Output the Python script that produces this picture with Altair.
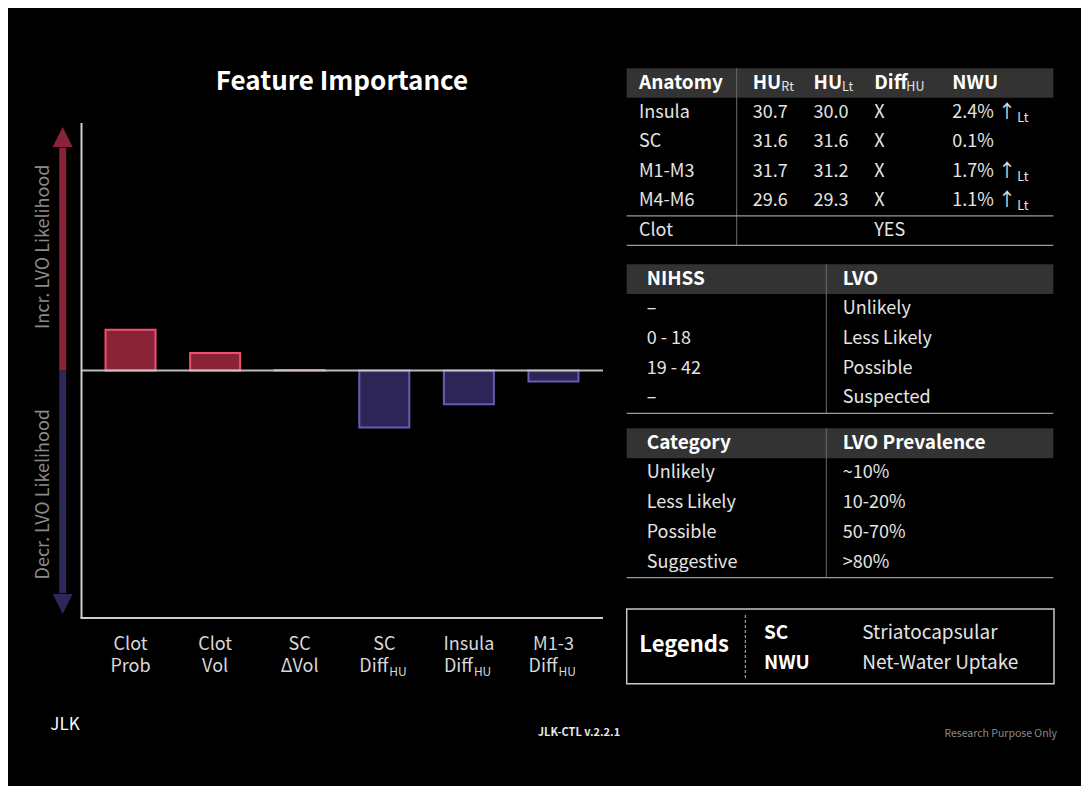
import altair as alt
import pandas as pd

FONT = "Noto Sans CJK KR"
OFF = 8  # page margin: chart pixel = picture pixel - 8


def px(v):
    return v - OFF


# ---------------- data ----------------
features = ["Clot Prob", "Clot Vol", "SC ΔVol", "SC DiffHU", "Insula DiffHU", "M1-3 DiffHU"]
feat_line1 = ["Clot", "Clot", "SC", "SC", "Insula", "M1-3"]
feat_line2 = ["Prob", "Vol", "ΔVol", "Diff", "Diff", "Diff"]
feat_sub = ["", "", "", "HU", "HU", "HU"]
importance = [0.165, 0.071, 0.002, -0.230, -0.136, -0.044]

anat_header = ["Anatomy", "HU", "HU", "Diff", "NWU"]
anat_header_sub = ["", "Rt", "Lt", "HU", ""]
anatomy = ["Insula", "SC", "M1-M3", "M4-M6"]
hu_rt = [30.7, 31.6, 31.7, 29.6]
hu_lt = [30.0, 31.6, 31.2, 29.3]
diff_hu = ["X", "X", "X", "X"]
nwu = [2.4, 0.1, 1.7, 1.1]
nwu_side = ["Lt", "", "Lt", "Lt"]
clot_label = "Clot"
clot_value = "YES"

nihss_header = ["NIHSS", "LVO"]
nihss = ["–", "0 - 18", "19 - 42", "–"]
nihss_lvo = ["Unlikely", "Less Likely", "Possible", "Suspected"]

prev_header = ["Category", "LVO Prevalence"]
categories = ["Unlikely", "Less Likely", "Possible", "Suggestive"]
prevalence = ["~10%", "10-20%", "50-70%", ">80%"]

legend_title = "Legends"
legend_keys = ["SC", "NWU"]
legend_vals = ["Striatocapsular", "Net-Water Uptake"]

title_text = "Feature Importance"
up_text = "Incr. LVO Likelihood"
down_text = "Decr. LVO Likelihood"
version_text = "JLK-CTL v.2.2.1"
note_text = "Research Purpose Only"
logo_text = "JLK"

# ---------------- styles ----------------
POS_FILL, POS_STROKE = "#8a2338", "#f0506f"
NEG_FILL, NEG_STROKE = "#2d2556", "#6a5ab4"
ARROW_UP, ARROW_DOWN = "#8b2238", "#2e2759"
AXIS = "#cfcfcf"
LABEL = "#d8d8d8"
BODY = "#e4e4e4"
HEAD_BG = "#333333"
HLINE = "#9a9a9a"
VLINE = "#6c6c6c"

one = pd.DataFrame({"k": [0]})

# ---------------- bar chart ----------------
bar_df = pd.DataFrame({"feature": features, "value": importance,
                       "l1": feat_line1, "l2": feat_line2, "sub": feat_sub})
XB = alt.Scale(domain=features, range=[px(81), px(603)], paddingInner=0.409, paddingOuter=0.29)
YB = alt.Scale(domain=[-1, 1], range=[px(618), px(123)], nice=False, zero=False)

bars = alt.Chart(bar_df).mark_bar(strokeWidth=2).encode(
    x=alt.X("feature:N", scale=XB, axis=None),
    y=alt.Y("value:Q", scale=YB, axis=None),
    y2=alt.datum(0),
    fill=alt.condition(alt.datum.value > 0, alt.value(POS_FILL), alt.value(NEG_FILL)),
    stroke=alt.condition(alt.datum.value > 0, alt.value(POS_STROKE), alt.value(NEG_STROKE)),
)


def yd(v):
    return alt.YDatum(v, type="quantitative", scale=YB, axis=None)


y_axis_line = alt.Chart(one).mark_rule(color=AXIS, strokeWidth=2).encode(
    x=alt.value(px(81.5)), y=yd(-1), y2=alt.datum(1))
x_axis_line = alt.Chart(one).mark_rule(color=AXIS, strokeWidth=2).encode(
    x=alt.value(px(80.5)), x2=alt.value(px(603)), y=yd(-1))
zero_line = alt.Chart(one).mark_rule(color=AXIS, strokeWidth=2, opacity=0.9).encode(
    x=alt.value(px(81.5)), x2=alt.value(px(603)), y=yd(0))

AX = px(62.7)
up_shaft = alt.Chart(one).mark_rule(color=ARROW_UP, strokeWidth=7).encode(
    x=alt.value(AX), y=yd(0), y2=alt.datum(0.9))
up_head = alt.Chart(one).mark_point(shape="M-1,1L1,1L0,-1Z", size=400, filled=True,
                                    color=ARROW_UP, opacity=1, strokeWidth=0).encode(
    x=alt.value(AX), y=yd(0.943))
down_shaft = alt.Chart(one).mark_rule(color=ARROW_DOWN, strokeWidth=7).encode(
    x=alt.value(AX), y=yd(0), y2=alt.datum(-0.9))
down_head = alt.Chart(one).mark_point(shape="M-1,-1L1,-1L0,1Z", size=400, filled=True,
                                      color=ARROW_DOWN, opacity=1, strokeWidth=0).encode(
    x=alt.value(AX), y=yd(-0.943))
up_label = alt.Chart(one).mark_text(angle=270, fontSize=18, color="#8a8a8a",
                                    align="center", baseline="middle").encode(
    x=alt.value(px(44)), y=yd(0.5), text=alt.value(up_text))
down_label = alt.Chart(one).mark_text(angle=270, fontSize=18, color="#8a8a8a",
                                      align="center", baseline="middle").encode(
    x=alt.value(px(44)), y=yd(-0.5), text=alt.value(down_text))

xf = alt.X("feature:N", scale=XB, axis=None)
lab1 = alt.Chart(bar_df).mark_text(fontSize=18, color=LABEL, align="center",
                                   baseline="alphabetic").encode(
    x=xf, y=alt.value(px(650)), text="l1:N")
lab2 = alt.Chart(bar_df).transform_filter(alt.datum.sub == "").mark_text(
    fontSize=18, color=LABEL, align="center", baseline="alphabetic").encode(
    x=xf, y=alt.value(px(672)), text="l2:N")
lab2m = alt.Chart(bar_df).transform_filter(alt.datum.sub != "").mark_text(
    fontSize=18, color=LABEL, align="right", baseline="alphabetic", dx=4).encode(
    x=xf, y=alt.value(px(672)), text="l2:N")
lab2s = alt.Chart(bar_df).transform_filter(alt.datum.sub != "").mark_text(
    fontSize=12, color=LABEL, align="left", baseline="alphabetic", dx=5).encode(
    x=xf, y=alt.value(px(675.5)), text="sub:N")

bar_group = alt.layer(bars, zero_line, y_axis_line, x_axis_line,
                      up_shaft, up_head, down_shaft, down_head, up_label, down_label,
                      lab1, lab2, lab2m, lab2s)


# ---------------- tables ----------------
def make_table(x_edges_img, y_top, y_bot, n_rows, head_df, body_df, div_idx, right_idx,
               hlines, subs):
    xs = alt.Scale(domain=list(range(len(x_edges_img))), range=[px(v) for v in x_edges_img],
                   nice=False, zero=False)
    ys = alt.Scale(domain=[0, n_rows], range=[px(y_top), px(y_bot)], nice=False, zero=False)

    def xd(v):
        return alt.XDatum(v, type="quantitative", scale=xs, axis=None)

    def ydt(v):
        return alt.YDatum(v, type="quantitative", scale=ys, axis=None)

    layers = [
        alt.Chart(one).mark_rect(color=HEAD_BG).encode(
            x=xd(0), x2=alt.datum(right_idx), y=ydt(0), y2=alt.datum(1)),
        alt.Chart(one).mark_rule(color=VLINE, strokeWidth=1).encode(
            x=xd(div_idx), y=ydt(0), y2=alt.datum(n_rows)),
    ]
    for h in hlines:
        layers.append(alt.Chart(one).mark_rule(color=HLINE, strokeWidth=1.3).encode(
            x=xd(0), x2=alt.datum(right_idx), y=ydt(h)))
    xe = alt.X("c:Q", scale=xs, axis=None)
    ye = alt.Y("r:Q", scale=ys, axis=None)
    layers.append(alt.Chart(head_df).mark_text(fontSize=19, fontWeight="bold", color="white",
                                               align="left", baseline="middle").encode(
        x=xe, y=ye, text="t:N"))
    layers.append(alt.Chart(body_df).mark_text(fontSize=18, color=BODY,
                                               align="left", baseline="middle").encode(
        x=xe, y=ye, text="t:N"))
    for sdf, dx, dy in subs:
        layers.append(alt.Chart(sdf).mark_text(fontSize=12.5, color=BODY, align="left",
                                               baseline="middle", dx=dx, dy=dy).encode(
            x=xe, y=ye, text="t:N"))
    return alt.layer(*layers)


# Table 1: anatomy
t1_cols = [1, 3, 4, 5, 6]
t1_head = pd.DataFrame({"c": t1_cols, "r": [0.5] * 5, "t": anat_header})
t1_rows = []
for i in range(len(anatomy)):
    r = i + 1.5
    nw = f"{nwu[i]:.1f}%" + (" ↑" if nwu_side[i] else "")
    for c, t in zip(t1_cols, [anatomy[i], f"{hu_rt[i]:.1f}", f"{hu_lt[i]:.1f}", diff_hu[i], nw]):
        t1_rows.append({"c": c, "r": r, "t": t})
t1_rows.append({"c": 1, "r": 5.5, "t": clot_label})
t1_rows.append({"c": 5, "r": 5.5, "t": clot_value})
t1_body = pd.DataFrame(t1_rows)
sub_hu = pd.DataFrame({"c": [3, 4], "r": [0.5, 0.5], "t": anat_header_sub[1:3]})
sub_diff = pd.DataFrame({"c": [5], "r": [0.5], "t": [anat_header_sub[3]]})
sub_nwu = pd.DataFrame([{"c": 6, "r": i + 1.5, "t": s} for i, s in enumerate(nwu_side) if s])
table1 = make_table([626.7, 639, 736.7, 752.7, 813.5, 874.3, 952.3, 1053.3],
                    68.3, 245.3, 6, t1_head, t1_body, 2, 7, [5, 6],
                    [(sub_hu, 28.5, 4), (sub_diff, 32, 4), (sub_nwu, 65, 5)])

# Table 2: NIHSS
t2_head = pd.DataFrame({"c": [1, 3], "r": [0.5, 0.5], "t": nihss_header})
t2_body = pd.DataFrame(
    [{"c": 1, "r": i + 1.5, "t": v} for i, v in enumerate(nihss)] +
    [{"c": 3, "r": i + 1.5, "t": v} for i, v in enumerate(nihss_lvo)])
table2 = make_table([626.7, 646.7, 826.3, 842.7, 1053.3], 264.3, 413.3, 5,
                    t2_head, t2_body, 2, 4, [5], [])

# Table 3: prevalence
t3_head = pd.DataFrame({"c": [1, 3], "r": [0.5, 0.5], "t": prev_header})
t3_body = pd.DataFrame(
    [{"c": 1, "r": i + 1.5, "t": v} for i, v in enumerate(categories)] +
    [{"c": 3, "r": i + 1.5, "t": v} for i, v in enumerate(prevalence)])
table3 = make_table([626.7, 646.7, 826.3, 842.7, 1053.3], 428.3, 577.7, 5,
                    t3_head, t3_body, 2, 4, [5], [])

# ---------------- legend box ----------------
LX = alt.Scale(domain=[0, 1, 2, 3, 4, 5],
               range=[px(v) for v in [626.7, 639.3, 745.3, 764, 862.3, 1054]], nice=False, zero=False)
LY = alt.Scale(domain=[0, 1, 2, 3, 4, 5],
               range=[px(v) for v in [609, 615, 632.6, 662.6, 679.7, 683.7]], nice=False, zero=False)


def lxd(v):
    return alt.XDatum(v, type="quantitative", scale=LX, axis=None)


def lyd(v):
    return alt.YDatum(v, type="quantitative", scale=LY, axis=None)


leg_df = pd.DataFrame({"r": [2 + i for i in range(len(legend_keys))],
                       "key": legend_keys, "val": legend_vals})
leg_box = alt.Chart(one).mark_rect(fillOpacity=0, stroke="#c8c8c8", strokeWidth=1.5).encode(
    x=lxd(0), x2=alt.datum(5), y=lyd(0), y2=alt.datum(5))
leg_dash = alt.Chart(one).mark_rule(color="#bdbdbd", strokeWidth=1, strokeDash=[3, 2]).encode(
    x=lxd(2), y=lyd(1), y2=alt.datum(4))
leg_title = alt.Chart(one).mark_text(fontSize=22, fontWeight="bold", color="white",
                                     align="left", baseline="middle", dy=-3).encode(
    x=lxd(1), y=lyd(2.5), text=alt.value(legend_title))
leg_keys = alt.Chart(leg_df).mark_text(fontSize=19, fontWeight="bold", color="white",
                                       align="left", baseline="middle").encode(
    x=lxd(3), y=alt.Y("r:Q", scale=LY, axis=None), text="key:N")
leg_vals = alt.Chart(leg_df).mark_text(fontSize=19, color=BODY,
                                       align="left", baseline="middle").encode(
    x=lxd(4), y=alt.Y("r:Q", scale=LY, axis=None), text="val:N")
legend_group = alt.layer(leg_box, leg_dash, leg_title, leg_keys, leg_vals)

# ---------------- titles / footer ----------------
title = alt.Chart(one).mark_text(fontSize=26, fontWeight="bold", color="white", align="center",
                                 baseline="alphabetic").encode(
    x=alt.value(px(342)), y=alt.value(px(90)), text=alt.value(title_text))
version = alt.Chart(one).mark_text(fontSize=11, fontWeight="bold", color="#e8e8e8", align="center",
                                   baseline="alphabetic").encode(
    x=alt.value(px(579)), y=alt.value(px(736)), text=alt.value(version_text))
note = alt.Chart(one).mark_text(fontSize=10.5, color="#8a8a8a", align="right",
                                baseline="alphabetic").encode(
    x=alt.value(px(1057)), y=alt.value(px(736.5)), text=alt.value(note_text))
logo = alt.Chart(one).mark_text(fontSize=17, color="white", align="center",
                                baseline="alphabetic").encode(
    x=alt.value(px(65)), y=alt.value(px(730)), text=alt.value(logo_text))
misc = alt.layer(title, version, note, logo)

chart = alt.layer(bar_group, table1, table2, table3, legend_group, misc).resolve_scale(
    x="independent", y="independent"
).properties(
    width=1073, height=778, padding=0, background="black",
    autosize=alt.AutoSizeParams(type="none"),
).configure_view(stroke=None).configure_text(font=FONT)

chart.save("out.html", embed_options={"renderer": "svg", "actions": False})
